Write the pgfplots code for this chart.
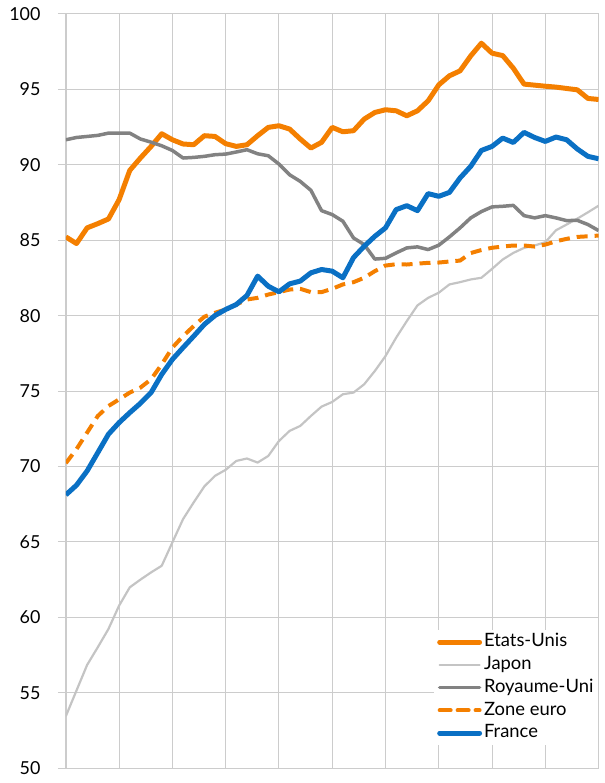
\documentclass[border=0pt]{standalone}
\usepackage{fontspec}
\setmainfont{Lato}
\usepackage{pgfplots}
\usepackage{pgfplotstable}
\pgfplotsset{compat=1.18}

\definecolor{usorange}{HTML}{F47F00}
\definecolor{frblue}{HTML}{0A70C4}
\definecolor{ukgray}{HTML}{828282}
\definecolor{jpgray}{HTML}{C4C4C4}
\definecolor{gridgray}{HTML}{CCCCCC}

% columns: t, Etats-Unis, Japon, Royaume-Uni, Zone euro, France
\pgfplotstableread{
t  us     jp     uk     ez     fr
0  85.22  53.45  91.66  70.22  68.12
1  84.78  55.15  91.81  71.15  68.76
2  85.82  56.85  91.88  72.25  69.71
3  86.10  58.02  91.95  73.35  70.92
4  86.41  59.23  92.10  74.01  72.14
5  87.69  60.78  92.10  74.45  72.91
6  89.63  61.99  92.10  74.90  73.57
7  90.45  62.50  91.71  75.23  74.19
8  91.22  62.98  91.50  75.78  74.90
9  92.06  63.42  91.26  76.77  76.11
10 91.66  64.97  90.95  77.88  77.10
11 91.38  66.51  90.45  78.64  77.88
12 91.33  67.62  90.49  79.31  78.64
13 91.93  68.68  90.56  79.93  79.42
14 91.88  69.38  90.67  80.19  80.01
15 91.40  69.78  90.71  80.41  80.41
16 91.22  70.37  90.85  80.74  80.74
17 91.33  70.53  91.00  81.07  81.34
18 91.93  70.26  90.73  81.18  82.62
19 92.48  70.70  90.60  81.40  81.95
20 92.59  71.69  90.05  81.56  81.58
21 92.37  72.36  89.34  81.73  82.11
22 91.71  72.69  88.90  81.78  82.29
23 91.11  73.35  88.31  81.56  82.84
24 91.49  73.97  86.96  81.56  83.06
25 92.48  74.28  86.70  81.78  82.95
26 92.19  74.79  86.26  82.07  82.51
27 92.26  74.90  85.15  82.22  83.85
28 93.03  75.45  84.71  82.51  84.60
29 93.47  76.33  83.75  82.95  85.26
30 93.65  77.32  83.80  83.32  85.82
31 93.58  78.54  84.16  83.41  87.03
32 93.25  79.64  84.49  83.39  87.29
33 93.58  80.68  84.56  83.45  86.96
34 94.24  81.18  84.38  83.50  88.09
35 95.30  81.52  84.67  83.52  87.91
36 95.90  82.07  85.22  83.59  88.17
37 96.23  82.22  85.82  83.65  89.13
38 97.22  82.40  86.48  84.15  89.90
39 98.06  82.51  86.90  84.35  90.95
40 97.40  83.10  87.21  84.50  91.22
41 97.24  83.72  87.25  84.58  91.77
42 96.40  84.16  87.31  84.65  91.48
43 95.35  84.49  86.63  84.65  92.15
44 95.28  84.65  86.48  84.58  91.81
45 95.21  84.87  86.63  84.71  91.55
46 95.15  85.66  86.48  84.93  91.84
47 95.06  86.04  86.30  85.09  91.66
48 94.97  86.43  86.32  85.22  91.05
49 94.40  86.85  86.04  85.26  90.56
50 94.33  87.29  85.64  85.31  90.40
}\datatable

\begin{document}
\begin{tikzpicture}
\begin{axis}[
    scale only axis,
    width=534bp, height=756bp,
    xmin=0, xmax=50, ymin=50, ymax=100,
    xtick={0,5,...,50}, xticklabels={},
    ytick={50,55,...,100},
    grid=major,
    major grid style={draw=gridgray, line width=1bp},
    axis x line*=bottom, axis y line*=left,
    x axis line style={draw=none, -},
    y axis line style={draw=gridgray, line width=2.2bp, -},
    xtick style={draw=none},
    ytick style={draw=gridgray, line width=1bp},
    tick align=outside,
    major tick length=8bp,
    /pgf/number format/assume math mode=true,
    yticklabel style={font=\fontsize{18}{21}\selectfont, xshift=-14bp},
    legend cell align=left,
    legend style={at={(1,0.0304)}, anchor=south east, draw=none, fill=white,
        font=\fontsize{18.5}{22}\selectfont, row sep=4.8bp, inner sep=3bp,
        nodes={inner xsep=2bp, inner ysep=0pt, text height=13.9bp, text depth=4.1bp}},
    legend image code/.code={\draw[#1, line cap=round] (0bp,0bp) -- (40bp,0bp);},
    every axis plot/.append style={line join=round},
]
\addplot[usorange, line width=5bp] table[x=t, y=us] {\datatable};
\addlegendentry{Etats-Unis}
\addplot[jpgray, line width=2.2bp] table[x=t, y=jp] {\datatable};
\addlegendentry{Japon}
\addplot[ukgray, line width=3.5bp] table[x=t, y=uk] {\datatable};
\addlegendentry{Royaume-Uni}
\addplot[usorange, line width=4bp, dash pattern=on 11bp off 7bp] table[x=t, y=ez] {\datatable};
\addlegendentry{Zone euro}
\addplot[frblue, line width=5bp] table[x=t, y=fr] {\datatable};
\addlegendentry{France}
\end{axis}
\path ([shift={(-66bp,-13bp)}]current axis.south west) rectangle ([shift={(6bp,14bp)}]current axis.north east);
\end{tikzpicture}
\end{document}
